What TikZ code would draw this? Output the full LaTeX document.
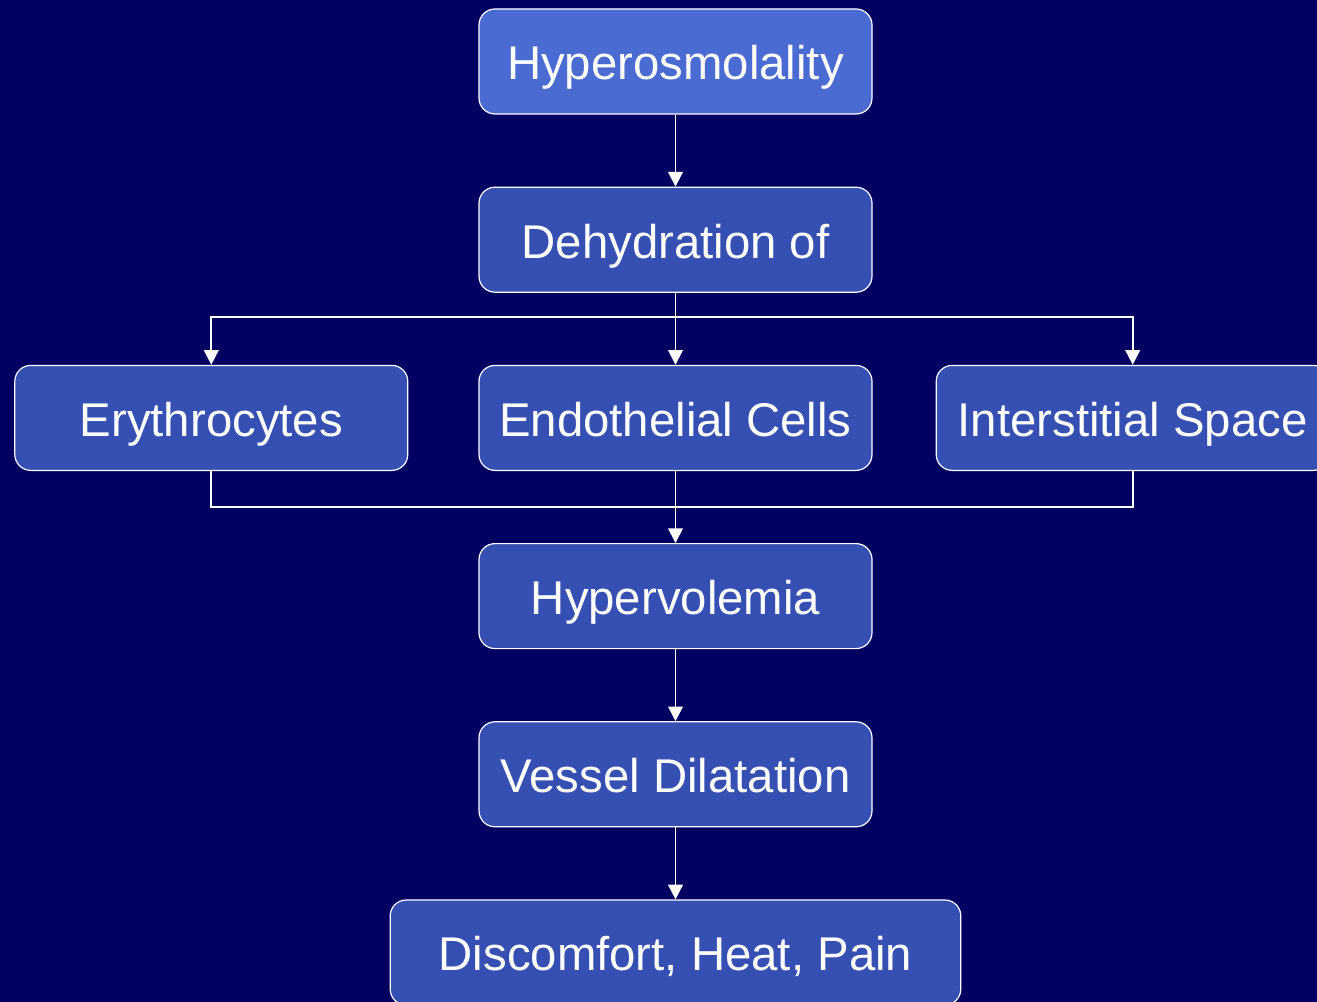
\documentclass[tikz,border=0pt]{standalone}
\usepackage{fontspec}
\setmainfont{Liberation Sans}
\usepackage{xcolor}
\usepackage{tikz}
\usetikzlibrary{arrows.meta, positioning, calc}

\definecolor{navybg}{HTML}{000062}
\definecolor{topblue}{HTML}{4A6BD1}
\definecolor{boxblue}{HTML}{3550B2}

\begin{document}
\begin{tikzpicture}[
    x=0.75pt, y=-0.75pt,
    node distance=54pt,
    box/.style={draw=white, rounded corners=12pt, line width=0.9pt, fill=boxblue, text=white,
        minimum height=78.75pt, minimum width=294.75pt, align=center, inner sep=0pt,
        text height=27.7pt, text depth=0pt,
        font=\fontsize{35.5}{40}\selectfont},
    first/.style={box, fill=topblue},
    conn/.style={draw=white, line width=1.3pt},
    arrow/.style={conn, -{Triangle[length=11pt, width=11pt]}},
]
\path[use as bounding box, fill=navybg] (0,0) rectangle (1317,1002);

\node[first] (hyper) at (675.5,61.5) {Hyperosmolality};
\node[box, below=of hyper] (dehyd) {Dehydration of};
\node[box, below=of dehyd] (endo) {Endothelial Cells};
\node[box, left=52.5pt of endo] (eryth) {Erythrocytes};
\node[box, right=47.25pt of endo] (inter) {Interstitial Space};
\node[box, below=of endo] (hyperv) {Hypervolemia};
\node[box, below=of hyperv] (vessel) {Vessel Dilatation};
\node[box, below=of vessel, minimum width=428pt] (pain) {Discomfort, Heat, Pain};

\coordinate (split) at ($(dehyd.south)!0.34!(endo.north)$);
\coordinate (join) at ($(endo.south)!0.5!(hyperv.north)$);

\draw[arrow] (hyper) -- (dehyd);
\draw[arrow] (dehyd) -- (endo);
\draw[arrow] (split) -| (eryth);
\draw[arrow] (split) -| (inter);
\draw[conn] (eryth.south) |- (join) -| (inter.south);
\draw[arrow] (endo) -- (hyperv);
\draw[arrow] (hyperv) -- (vessel);
\draw[arrow] (vessel) -- (pain);
\end{tikzpicture}
\end{document}
